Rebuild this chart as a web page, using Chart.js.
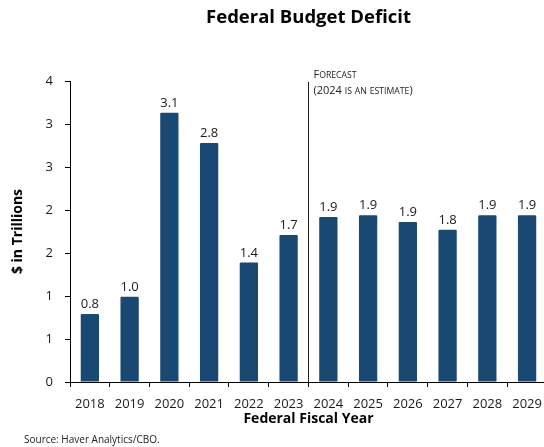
<!DOCTYPE html>
<html>
<head>
<meta charset="utf-8">
<title>Federal Budget Deficit</title>
<script src="https://cdn.jsdelivr.net/npm/chart.js@4"></script>
<style>
  html, body { margin: 0; padding: 0; background: #fff; overflow: hidden; }
  #wrap { width: 551px; height: 447px; }
</style>
</head>
<body>
<div id="wrap"><canvas id="deficitChart" width="551" height="447"></canvas></div>
<script>
// Anni fiscali e deficit in trilioni di dollari (dal 2024 previsione)
const anni = ["2018", "2019", "2020", "2021", "2022", "2023", "2024", "2025", "2026", "2027", "2028", "2029"];
const deficit = [0.79, 0.99, 3.13, 2.78, 1.39, 1.71, 1.92, 1.94, 1.86, 1.77, 1.94, 1.94];
const primoAnnoPrevisione = 6; // indice del 2024

const FONT = "'Open Sans', 'Noto Sans', sans-serif";
const BLU = "#194873";

// Testo in maiuscoletto: le minuscole diventano maiuscole più piccole
function disegnaMaiuscoletto(ctx, testo, x, y, grande, piccolo) {
  let cx = x;
  for (const ch of testo) {
    const minuscola = ch !== ch.toUpperCase();
    ctx.font = (minuscola ? piccolo : grande) + "px " + FONT;
    const c = minuscola ? ch.toUpperCase() : ch;
    ctx.fillText(c, cx, y);
    cx += ctx.measureText(c).width;
  }
}

const extra = {
  id: "extra",
  afterDatasetsDraw(chart) {
    const ctx = chart.ctx;
    const meta = chart.getDatasetMeta(0);
    ctx.save();
    ctx.fillStyle = "#1a1a1a";
    ctx.font = "13px " + FONT;
    ctx.textAlign = "center";
    ctx.textBaseline = "bottom";
    meta.data.forEach((bar, i) => {
      ctx.fillText(deficit[i].toFixed(1), bar.x, bar.y - 3);
    });
    ctx.restore();
  },
  afterDraw(chart) {
    const ctx = chart.ctx;
    const area = chart.chartArea;
    const x = chart.scales.x;
    ctx.save();

    // Titolo
    ctx.fillStyle = "#000";
    ctx.font = "bold 18.5px " + FONT;
    ctx.textAlign = "center";
    ctx.textBaseline = "middle";
    ctx.fillText("Federal Budget Deficit", (area.left + area.right) / 2, 18);

    // Linea di separazione previsione
    const xp = Math.round((x.getPixelForValue(primoAnnoPrevisione - 1) + x.getPixelForValue(primoAnnoPrevisione)) / 2) + 0.5;
    ctx.strokeStyle = "#222";
    ctx.lineWidth = 1;
    ctx.beginPath();
    ctx.moveTo(xp, 82);
    ctx.lineTo(xp, area.bottom);
    ctx.stroke();

    ctx.fillStyle = "#222";
    ctx.textAlign = "left";
    ctx.textBaseline = "alphabetic";
    disegnaMaiuscoletto(ctx, "Forecast", xp + 5, 78, 11, 8.7);
    disegnaMaiuscoletto(ctx, "(2024 is an estimate)", xp + 5, 94, 11, 8.7);

    // Fonte
    ctx.font = "10px " + FONT;
    ctx.fillStyle = "#222";
    ctx.textBaseline = "middle";
    ctx.fillText("Source: Haver Analytics/CBO.", 24, 440);
    ctx.restore();
  }
};

const ctx = document.getElementById("deficitChart").getContext("2d");
new Chart(ctx, {
  type: "bar",
  data: {
    labels: anni,
    datasets: [{
      data: deficit,
      backgroundColor: BLU,
      borderWidth: 0,
      borderRadius: 1,
      borderSkipped: "bottom",
      categoryPercentage: 1,
      barPercentage: 0.46
    }]
  },
  options: {
    responsive: false,
    animation: false,
    layout: { padding: { top: 81, right: 1, left: 0, bottom: 0 } },
    plugins: {
      legend: { display: false },
      title: { display: false },
      tooltip: { enabled: false }
    },
    scales: {
      x: {
        afterFit(scale) { scale.height = 65; },
        grid: { display: true, drawOnChartArea: false, drawTicks: true, tickLength: 5, color: "#000", offset: true },
        border: { color: "#000", width: 1 },
        ticks: { color: "#1a1a1a", font: { family: FONT, size: 13 }, padding: 9, maxRotation: 0, autoSkip: false },
        title: {
          display: true,
          text: "Federal Fiscal Year",
          color: "#000",
          font: { family: FONT, size: 14, weight: "bold" },
          padding: { top: 0, bottom: 20 }
        }
      },
      y: {
        min: 0,
        max: 3.5,
        afterFit(scale) { scale.width = 70; },
        grid: { display: true, drawOnChartArea: false, drawTicks: true, tickLength: 5, color: "#000" },
        border: { color: "#000", width: 1 },
        ticks: {
          stepSize: 0.5,
          color: "#1a1a1a",
          font: { family: FONT, size: 13 },
          padding: 12,
          callback: (v) => Math.round(v)
        },
        title: {
          display: true,
          text: "$ in Trillions",
          color: "#000",
          font: { family: FONT, size: 14, weight: "bold" },
          padding: { top: 10, bottom: 0 }
        }
      }
    }
  },
  plugins: [extra]
});
</script>
</body>
</html>
